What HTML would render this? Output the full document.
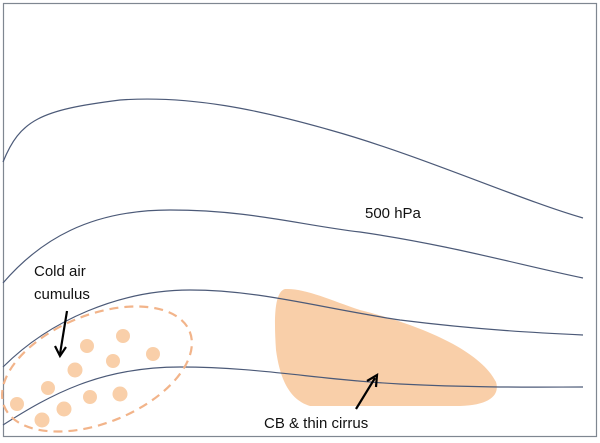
<!DOCTYPE html>
<html><head><style>body{margin:0;background:#fff}svg{display:block}text{font-family:"Liberation Sans",sans-serif;font-size:15px;fill:#111}</style></head><body>
<svg width="600" height="443" viewBox="0 0 600 443">
<rect x="3.5" y="3.5" width="593" height="433" fill="#fff" stroke="#7f8791" stroke-width="1.2"/>
<path d="M285,289 C305,288 330,300 360,310 C420,325 480,350 496,382 C500,395 490,405 460,406 L310,406 C290,400 280,380 276,350 C274,320 274,292 285,289 Z" fill="#f9cfa9"/>
<g fill="none" stroke="#4c5a78" stroke-width="1.2">
<path d="M3,162 C20,120 40,110 120,100 C190,95 260,110 330,130 C420,155 520,200 583,218"/>
<path d="M3,283 C40,240 90,210 170,210 C250,210 300,225 360,232 C450,245 520,265 583,278"/>
<path d="M3,367 C50,320 120,290 190,290 C260,290 320,308 400,320 C480,330 540,333 583,335"/>
<path d="M3,425 C50,395 100,367 180,367 C260,367 320,380 400,384 C480,388 540,387 583,387"/>
</g>
<ellipse cx="97" cy="369" rx="100" ry="54" transform="rotate(-22 97 369)" fill="none" stroke="#f2b48a" stroke-width="2.2" stroke-dasharray="9,6"/>
<g fill="#f9cfa9">
<circle cx="17" cy="404" r="7"/><circle cx="42" cy="420" r="7.5"/><circle cx="64" cy="409" r="7.5"/><circle cx="48" cy="388" r="7"/><circle cx="75" cy="370" r="7.5"/><circle cx="87" cy="346" r="7"/><circle cx="113" cy="361" r="7"/><circle cx="123" cy="336" r="7"/><circle cx="153" cy="354" r="7"/><circle cx="90" cy="397" r="7"/><circle cx="120" cy="394" r="7.5"/>
</g>
<g stroke="#000" stroke-width="2.2" fill="none">
<path d="M67,311 L60,354"/><path d="M55,346 L60,356 L66,347"/>
<path d="M356,409 L375,378"/><path d="M367,381 L377,375 L376,387"/>
</g>
<text x="34" y="276">Cold air</text>
<text x="34" y="299">cumulus</text>
<text x="365" y="218">500 hPa</text>
<text x="264" y="428">CB &amp; thin cirrus</text>
</svg>
</body></html>
